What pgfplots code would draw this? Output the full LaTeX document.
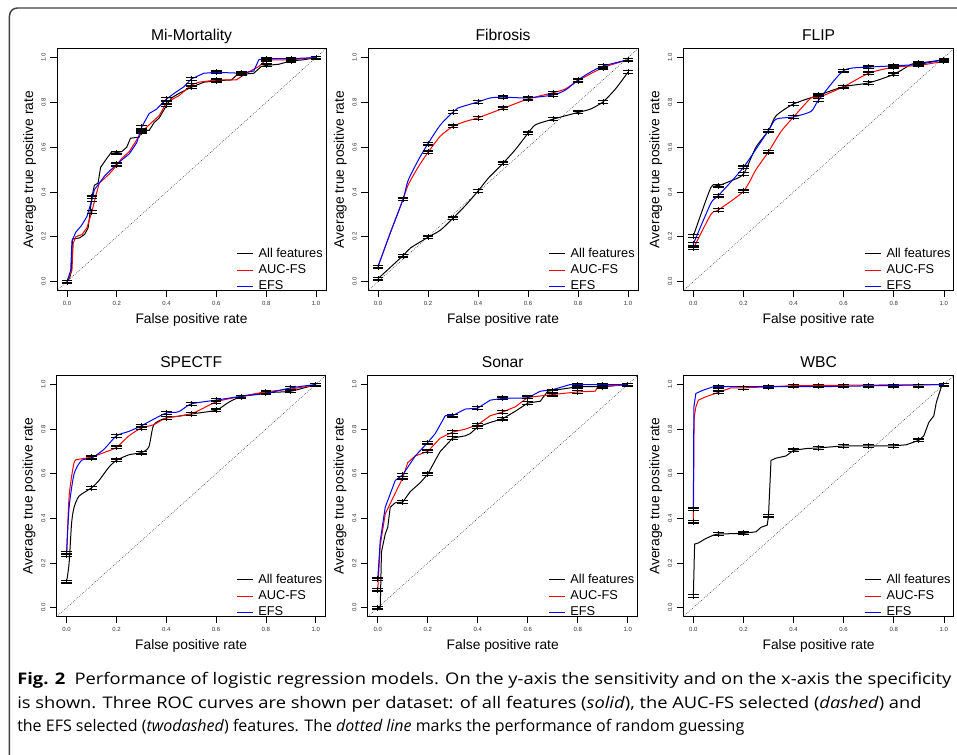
\documentclass[border=0pt]{standalone}
\usepackage{fontspec}
\setmainfont{Liberation Sans}
\newfontfamily\capfont{Open Sans}
\usepackage{pgfplots}
\pgfplotsset{compat=1.18}

\newcommand\tk{\fontsize{4.5}{5}\selectfont}

\pgfplotsset{
  roc/.style={
    scale only axis,
    xmin=-0.04, xmax=1.04, ymin=-0.04, ymax=1.04,
    xtick={0,0.2,0.4,0.6,0.8,1}, ytick={0,0.2,0.4,0.6,0.8,1},
    xticklabels={0.0,0.2,0.4,0.6,0.8,1.0},
    yticklabels={0.0,0.2,0.4,0.6,0.8,1.0},
    tick pos=left, tick align=outside, major tick length=5pt,
    tick style={black, line width=0.5pt},
    axis line style={black, line width=0.7pt},
    ticklabel style={font=\tk, inner sep=0pt, text=black!80},
    xticklabel style={anchor=north}, xticklabel shift=3pt,
    yticklabel style={rotate=90, anchor=south}, yticklabel shift=3.2pt,
    every axis title/.style={font=\fontsize{11.75}{14}\selectfont, at={(axis description cs:0.5,1)}, anchor=base, yshift=5.7pt},
    xlabel={False positive rate}, ylabel={Average true positive rate},
    label style={font=\fontsize{10.35}{12}\selectfont},
    xlabel style={at={(axis description cs:0.5,-0.138)}, anchor=base},
    ylabel style={at={(axis description cs:-0.089,0.5)}, anchor=base},
    legend style={draw=none, fill=none, at={(axis description cs:1,0)}, anchor=south east,
      xshift=2.7pt, yshift=-5.15pt, font=\fontsize{9.6}{11}\selectfont, row sep=0pt},
    legend cell align=left,
  },
  curve/.style={line width=0.75pt, forget plot},
  diag/.style={forget plot, black!85, dash pattern=on 0.5pt off 1pt, line width=0.4pt},
  ebar/.style={black, only marks, mark=|, mark size=2.2pt, mark options={line width=0.6pt}, forget plot,
    error bars/.cd, y dir=both, y explicit, error mark=|,
    error bar style={line width=0.6pt},
    error mark options={line width=1pt, mark size=4pt}},
  limg/.style={legend image code/.code={\draw[#1, line width=0.75pt] (0pt,0pt) -- (12pt,0pt) (13.5pt,0pt);}},
}
\newcommand\rocleg{%
  \addlegendimage{limg=black}\addlegendentry{All features}
  \addlegendimage{limg=red}\addlegendentry{AUC-FS}
  \addlegendimage{limg=blue}\addlegendentry{EFS}}

\begin{document}
\begin{tikzpicture}
\useasboundingbox (0,0) rectangle (717.75pt,566.25pt);
\draw[line width=1.1pt, black!75, rounded corners=6pt] (7.1pt,-3pt) -- (7.1pt,560.25pt) -- (722pt,560.25pt);

% ---- Mi-Mortality
\begin{axis}[roc, at={(42.75pt,348.3pt)}, anchor=south west, width=201.75pt, height=181.5pt, title={Mi-Mortality}]
\addplot[curve, black] coordinates {(0,0) (0.012,0.02) (0.018,0.05) (0.022,0.19) (0.05,0.195) (0.07,0.21) (0.085,0.24) (0.095,0.33) (0.1,0.376) (0.11,0.43) (0.125,0.44) (0.135,0.51) (0.16,0.55) (0.18,0.58) (0.2,0.576) (0.22,0.58) (0.24,0.6) (0.255,0.64) (0.29,0.645) (0.3,0.674) (0.33,0.675) (0.35,0.71) (0.37,0.73) (0.4,0.787) (0.42,0.82) (0.45,0.84) (0.5,0.868) (0.55,0.89) (0.6,0.897) (0.66,0.9) (0.68,0.92) (0.7,0.925) (0.75,0.93) (0.78,0.96) (0.8,0.965) (0.85,0.97) (0.9,0.985) (0.95,0.99) (1,1)};
\addplot[curve, red] coordinates {(0,0) (0.02,0.05) (0.025,0.17) (0.035,0.2) (0.06,0.21) (0.08,0.24) (0.1,0.311) (0.115,0.38) (0.13,0.44) (0.17,0.48) (0.2,0.52) (0.22,0.55) (0.25,0.58) (0.3,0.668) (0.33,0.7) (0.37,0.74) (0.4,0.8) (0.45,0.83) (0.5,0.878) (0.53,0.89) (0.6,0.9) (0.68,0.9) (0.72,0.93) (0.77,0.96) (0.8,0.99) (0.9,0.99) (1,1)};
\addplot[curve, blue] coordinates {(0,0) (0.015,0.05) (0.02,0.18) (0.035,0.22) (0.058,0.25) (0.08,0.29) (0.1,0.365) (0.11,0.41) (0.13,0.44) (0.15,0.47) (0.2,0.525) (0.25,0.57) (0.28,0.62) (0.3,0.69) (0.33,0.75) (0.36,0.77) (0.4,0.815) (0.43,0.84) (0.47,0.87) (0.5,0.905) (0.53,0.92) (0.55,0.93) (0.6,0.934) (0.7,0.93) (0.75,0.94) (0.77,0.99) (0.8,0.995) (0.9,0.995) (1,1)};
\addplot[diag] coordinates {(-0.04,-0.04) (1.04,1.04)};
\addplot[ebar] table[x=x, y=y, y error=e] {
x y e
0 0 0.006
0.1 0.376 0.006
0.2 0.576 0.006
0.3 0.674 0.006
0.4 0.787 0.006
0.5 0.868 0.006
0.6 0.897 0.006
0.7 0.925 0.006
0.8 0.965 0.006
0.9 0.985 0.006
1 1 0.006
0.1 0.311 0.006
0.2 0.52 0.006
0.3 0.668 0.006
0.4 0.8 0.006
0.5 0.878 0.006
0.6 0.9 0.006
0.8 0.99 0.006
0.9 0.99 0.006
0.1 0.365 0.006
0.2 0.525 0.006
0.3 0.69 0.006
0.4 0.815 0.006
0.5 0.905 0.006
0.6 0.934 0.006
0.7 0.93 0.006
0.8 0.995 0.006
0.9 0.995 0.006
};
\rocleg
\end{axis}

% ---- Fibrosis
\begin{axis}[roc, at={(276pt,348.3pt)}, anchor=south west, width=202.5pt, height=181.5pt, title={Fibrosis}]
\addplot[curve, black, smooth, tension=0.4] coordinates {(0,0.013) (0.1,0.116) (0.13,0.15) (0.2,0.198) (0.25,0.23) (0.3,0.283) (0.35,0.34) (0.4,0.404) (0.44,0.46) (0.5,0.528) (0.55,0.59) (0.6,0.662) (0.63,0.7) (0.7,0.725) (0.8,0.755) (0.85,0.77) (0.9,0.802) (0.95,0.86) (1,0.935)};
\addplot[curve, red, smooth, tension=0.4] coordinates {(0,0.067) (0.05,0.22) (0.1,0.367) (0.12,0.43) (0.16,0.51) (0.2,0.577) (0.25,0.65) (0.3,0.693) (0.35,0.715) (0.4,0.731) (0.5,0.773) (0.6,0.815) (0.7,0.843) (0.75,0.86) (0.8,0.897) (0.9,0.955) (1,0.99)};
\addplot[curve, blue, smooth, tension=0.4] coordinates {(0,0.067) (0.05,0.22) (0.1,0.367) (0.12,0.45) (0.16,0.54) (0.2,0.616) (0.25,0.7) (0.3,0.757) (0.32,0.775) (0.4,0.802) (0.45,0.82) (0.5,0.823) (0.6,0.82) (0.7,0.833) (0.75,0.855) (0.8,0.9) (0.85,0.935) (0.9,0.962) (1,0.99)};
\addplot[diag] coordinates {(-0.04,-0.04) (1.04,1.04)};
\addplot[ebar] table[x=x, y=y, y error=e] {
x y e
0 0.013 0.006
0.1 0.116 0.006
0.2 0.198 0.006
0.3 0.283 0.006
0.4 0.404 0.006
0.5 0.528 0.006
0.6 0.662 0.006
0.7 0.725 0.006
0.8 0.755 0.006
0.9 0.802 0.006
1 0.935 0.006
0 0.067 0.006
0.1 0.367 0.006
0.2 0.577 0.006
0.3 0.693 0.006
0.4 0.731 0.006
0.5 0.773 0.006
0.6 0.815 0.006
0.7 0.843 0.006
0.8 0.897 0.006
0.9 0.955 0.006
1 0.99 0.006
0.2 0.616 0.006
0.3 0.757 0.006
0.4 0.802 0.006
0.5 0.823 0.006
0.6 0.82 0.006
0.7 0.833 0.006
0.8 0.9 0.006
0.9 0.962 0.006
};
\rocleg
\end{axis}

% ---- FLIP
\begin{axis}[roc, at={(512.5pt,348.3pt)}, anchor=south west, width=202.9pt, height=181.5pt, title={FLIP}]
\addplot[curve, black, smooth, tension=0.4] coordinates {(0,0.204) (0.07,0.42) (0.1,0.428) (0.15,0.45) (0.2,0.48) (0.25,0.6) (0.3,0.674) (0.33,0.74) (0.4,0.793) (0.5,0.832) (0.6,0.87) (0.7,0.887) (0.8,0.925) (0.87,0.97) (0.9,0.975) (1,0.99)};
\addplot[curve, red, smooth, tension=0.4] coordinates {(0,0.148) (0.07,0.3) (0.1,0.32) (0.2,0.403) (0.25,0.5) (0.3,0.58) (0.35,0.67) (0.4,0.735) (0.47,0.82) (0.5,0.822) (0.6,0.87) (0.7,0.93) (0.8,0.957) (0.9,0.965) (1,0.983)};
\addplot[curve, blue, smooth, tension=0.4] coordinates {(0,0.168) (0.07,0.35) (0.1,0.384) (0.2,0.51) (0.3,0.675) (0.33,0.725) (0.4,0.735) (0.47,0.76) (0.5,0.81) (0.6,0.942) (0.7,0.957) (0.8,0.963) (0.9,0.97) (1,0.99)};
\addplot[diag] coordinates {(-0.04,-0.04) (1.04,1.04)};
\addplot[ebar] table[x=x, y=y, y error=e] {
x y e
0 0.204 0.006
0.1 0.428 0.006
0.2 0.48 0.006
0.3 0.674 0.006
0.4 0.793 0.006
0.5 0.832 0.006
0.6 0.87 0.006
0.7 0.887 0.006
0.8 0.925 0.006
0.9 0.975 0.006
1 0.99 0.006
0 0.148 0.006
0.1 0.32 0.006
0.2 0.403 0.006
0.3 0.58 0.006
0.4 0.735 0.006
0.5 0.822 0.006
0.7 0.93 0.006
0.8 0.957 0.006
0.9 0.965 0.006
1 0.983 0.006
0 0.168 0.006
0.1 0.384 0.006
0.2 0.51 0.006
0.5 0.81 0.006
0.6 0.942 0.006
0.7 0.957 0.006
0.8 0.963 0.006
0.9 0.97 0.006
};
\rocleg
\end{axis}

% ---- SPECTF
\begin{axis}[roc, at={(42.5pt,103.8pt)}, anchor=south west, width=201.75pt, height=180.75pt, title={SPECTF}]
\addplot[curve, black, smooth, tension=0.4] coordinates {(0,0.117) (0.01,0.2) (0.02,0.38) (0.03,0.45) (0.05,0.5) (0.1,0.537) (0.13,0.57) (0.17,0.63) (0.2,0.66) (0.25,0.685) (0.3,0.695) (0.33,0.72) (0.35,0.82) (0.4,0.85) (0.45,0.858) (0.5,0.868) (0.6,0.885) (0.65,0.92) (0.7,0.945) (0.8,0.963) (0.9,0.97) (1,1)};
\addplot[curve, red, smooth, tension=0.4] coordinates {(0,0.235) (0.01,0.5) (0.03,0.65) (0.05,0.665) (0.1,0.675) (0.15,0.695) (0.2,0.718) (0.25,0.77) (0.3,0.805) (0.35,0.82) (0.4,0.85) (0.5,0.868) (0.6,0.922) (0.7,0.947) (0.8,0.967) (0.9,0.98) (1,0.998)};
\addplot[curve, blue, smooth, tension=0.4] coordinates {(0,0.247) (0.01,0.45) (0.03,0.6) (0.06,0.66) (0.1,0.67) (0.15,0.71) (0.2,0.77) (0.25,0.79) (0.3,0.815) (0.35,0.845) (0.4,0.872) (0.45,0.878) (0.5,0.913) (0.6,0.93) (0.7,0.947) (0.8,0.96) (0.9,0.985) (1,1)};
\addplot[diag] coordinates {(-0.04,-0.04) (1.04,1.04)};
\addplot[ebar] table[x=x, y=y, y error=e] {
x y e
0 0.117 0.006
0.1 0.537 0.006
0.2 0.66 0.006
0.3 0.695 0.006
0.4 0.85 0.006
0.5 0.868 0.006
0.6 0.885 0.006
0.7 0.945 0.006
0.8 0.963 0.006
0.9 0.97 0.006
1 1 0.006
0 0.235 0.006
0.1 0.675 0.006
0.2 0.718 0.006
0.3 0.805 0.006
0.6 0.922 0.006
0.8 0.967 0.006
0 0.247 0.006
0.1 0.67 0.006
0.2 0.77 0.006
0.3 0.815 0.006
0.4 0.872 0.006
0.5 0.913 0.006
0.6 0.93 0.006
0.9 0.985 0.006
};
\rocleg
\end{axis}

% ---- Sonar
\begin{axis}[roc, at={(275.8pt,103.8pt)}, anchor=south west, width=202.5pt, height=180.75pt, title={Sonar}]
\addplot[curve, black] coordinates {(0,0) (0.01,0) (0.015,0.25) (0.03,0.33) (0.04,0.36) (0.05,0.45) (0.07,0.47) (0.1,0.473) (0.13,0.52) (0.17,0.56) (0.2,0.598) (0.23,0.66) (0.25,0.7) (0.3,0.76) (0.35,0.77) (0.37,0.78) (0.4,0.81) (0.45,0.83) (0.5,0.847) (0.55,0.88) (0.6,0.917) (0.65,0.925) (0.68,0.97) (0.8,0.99) (0.9,0.99) (1,1)};
\addplot[curve, red] coordinates {(0,0.08) (0.01,0.28) (0.03,0.42) (0.06,0.49) (0.1,0.582) (0.12,0.65) (0.15,0.68) (0.2,0.7) (0.25,0.76) (0.3,0.787) (0.35,0.8) (0.4,0.82) (0.45,0.86) (0.5,0.877) (0.55,0.9) (0.6,0.942) (0.7,0.955) (0.8,0.967) (0.87,0.97) (0.88,0.99) (1,1)};
\addplot[curve, blue] coordinates {(0,0.127) (0.01,0.3) (0.03,0.45) (0.07,0.57) (0.1,0.595) (0.15,0.68) (0.2,0.74) (0.23,0.78) (0.27,0.86) (0.3,0.861) (0.35,0.89) (0.4,0.894) (0.45,0.93) (0.5,0.938) (0.6,0.94) (0.65,0.97) (0.7,0.977) (0.77,1) (1,1)};
\addplot[diag] coordinates {(-0.04,-0.04) (1.04,1.04)};
\addplot[ebar] table[x=x, y=y, y error=e] {
x y e
0 0 0.006
0.1 0.473 0.006
0.2 0.598 0.006
0.3 0.76 0.006
0.4 0.81 0.006
0.5 0.847 0.006
0.6 0.917 0.006
0.7 0.97 0.006
0.8 0.99 0.006
0.9 0.99 0.006
1 1 0.006
0 0.08 0.006
0.1 0.582 0.006
0.2 0.7 0.006
0.3 0.787 0.006
0.4 0.82 0.006
0.5 0.877 0.006
0.6 0.942 0.006
0.7 0.955 0.006
0.8 0.967 0.006
0 0.127 0.006
0.1 0.595 0.006
0.2 0.74 0.006
0.3 0.861 0.006
0.4 0.894 0.006
0.5 0.938 0.006
0.8 1 0.006
0.9 1 0.006
};
\rocleg
\end{axis}

% ---- WBC
\begin{axis}[roc, at={(512.5pt,103.8pt)}, anchor=south west, width=202.9pt, height=180.75pt, title={WBC}]
\addplot[curve, black] coordinates {(0,0.052) (0.005,0.285) (0.02,0.29) (0.05,0.31) (0.08,0.325) (0.1,0.33) (0.2,0.333) (0.25,0.34) (0.27,0.36) (0.295,0.37) (0.3,0.412) (0.31,0.66) (0.33,0.67) (0.37,0.68) (0.4,0.705) (0.45,0.713) (0.5,0.716) (0.6,0.725) (0.7,0.725) (0.8,0.725) (0.85,0.73) (0.9,0.75) (0.92,0.77) (0.94,0.83) (0.96,0.86) (0.97,0.92) (0.99,0.99) (1,1)};
\addplot[curve, red] coordinates {(0,0.385) (0.003,0.85) (0.01,0.9) (0.02,0.93) (0.05,0.945) (0.1,0.965) (0.15,0.985) (0.2,0.985) (0.3,0.99) (0.4,0.995) (1,1)};
\addplot[curve, blue] coordinates {(0,0.44) (0.002,0.9) (0.01,0.96) (0.04,0.975) (0.08,0.99) (0.1,0.99) (0.2,0.99) (0.5,0.99) (1,1)};
\addplot[diag] coordinates {(-0.04,-0.04) (1.04,1.04)};
\addplot[ebar] table[x=x, y=y, y error=e] {
x y e
0 0.052 0.006
0.1 0.33 0.006
0.2 0.333 0.006
0.3 0.412 0.006
0.4 0.705 0.006
0.5 0.716 0.006
0.6 0.725 0.006
0.7 0.725 0.006
0.8 0.725 0.006
0.9 0.75 0.006
1 1 0.006
0 0.385 0.006
0.1 0.965 0.006
0.2 0.985 0.006
0.3 0.99 0.006
0.4 0.995 0.006
0.5 0.995 0.006
0.6 0.995 0.006
0.7 0.995 0.006
0.8 0.995 0.006
0.9 0.995 0.006
0 0.44 0.006
0.1 0.99 0.006
};
\rocleg
\end{axis}

% ---- caption
\begin{scope}[every node/.style={anchor=base west, inner sep=0pt, font=\capfont\fontsize{12}{15}\selectfont}]
\node at (12.75pt,52.7pt) {\scalebox{1.148}[1]{\textbf{Fig. 2}\hspace{0.5em}Performance of logistic regression models. On the y-axis the sensitivity and on the x-axis the specificity}};
\node at (12.75pt,34.7pt) {\scalebox{1.143}[1]{is shown. Three ROC curves are shown per dataset: of all features (\textit{solid}), the AUC-FS selected (\textit{dashed}) and}};
\node at (12.75pt,17.25pt) {the EFS selected (\textit{twodashed}) features. The \textit{dotted line} marks the performance of random guessing};
\end{scope}
\end{tikzpicture}
\end{document}
